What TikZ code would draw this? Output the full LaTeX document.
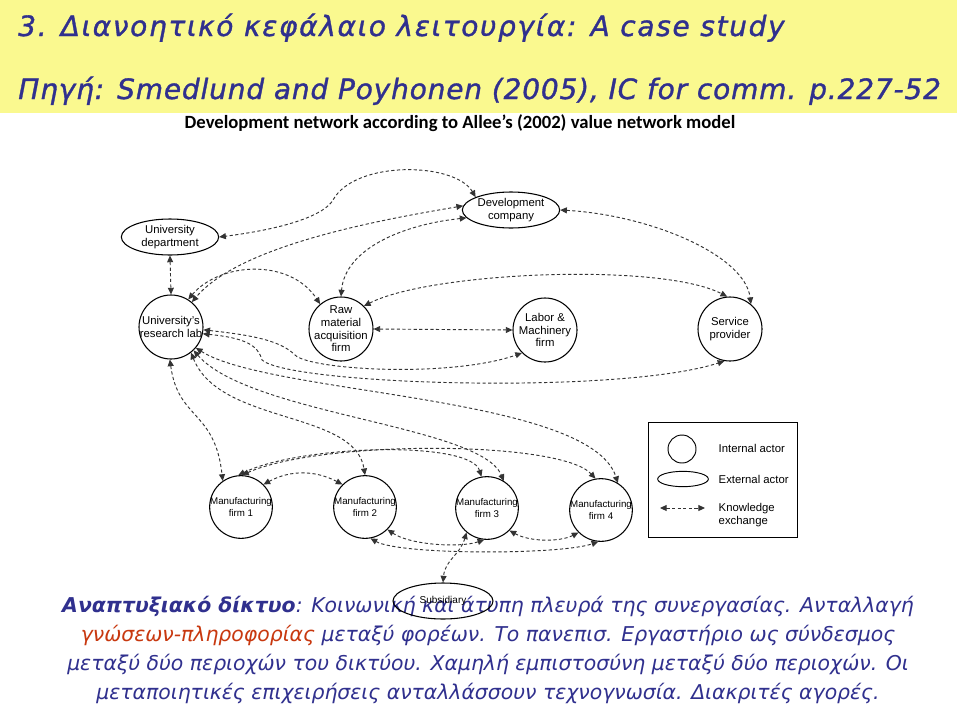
\documentclass[tikz,border=0pt]{standalone}
\usepackage{fontspec}
\setmainfont{Liberation Sans}
\newfontfamily\captionfont{Carlito}
\newfontfamily\slidefont{DejaVu Sans}
\newfontfamily\headfont[FakeBold=1.2,LetterSpace=3]{DejaVu Sans}
\newfontfamily\wideheadfont[FakeBold=1.2,LetterSpace=6]{DejaVu Sans}
\definecolor{SlideYellow}{HTML}{FAF98F}
\definecolor{SlideNavy}{HTML}{30308E}
\definecolor{SlideRust}{HTML}{C8380F}
\definecolor{LinkGrey}{HTML}{333333}
\usetikzlibrary{shapes,arrows.meta}

\begin{document}
\begin{tikzpicture}[x=0.75pt,y=-0.75pt,
    actor/.style={circle,draw,line width=0.8pt,minimum size=48pt,inner sep=-4pt,align=center,font=\fontsize{8.5}{9.5}\selectfont},
    firm/.style={actor,minimum size=47pt,inner sep=-3pt,font=\fontsize{7.3}{9}\selectfont},
    extactor/.style={ellipse,draw,line width=0.8pt,minimum width=73pt,minimum height=27pt,inner sep=0pt,align=center,font=\fontsize{8.5}{9.5}\selectfont},
    legtext/.style={anchor=west,align=left,font=\fontsize{8.5}{10}\selectfont},
    link/.style={LinkGrey,dash pattern=on 2.4pt off 1.8pt,line width=0.7pt,{Triangle[length=5pt,width=4.5pt]}-{Triangle[length=5pt,width=4.5pt]}}]
                \fill[white] (0,0) rectangle (960,711);
                \useasboundingbox (0,0) rectangle (960,711);
                \fill[SlideYellow] (0,0) rectangle (957,113);
                \node[anchor=base west,inner sep=0pt,SlideNavy,font=\wideheadfont\itshape\fontsize{21}{26}\selectfont] (title) at (18,36) {3. Διανοητικό κεφάλαιο λειτουργία: A case study};
                \node[anchor=base west,inner sep=0pt,SlideNavy,font=\headfont\itshape\fontsize{21}{26}\selectfont] (source) at (18,99) {Πηγή: Smedlund and Poyhonen (2005), IC for comm. p.227-52};
                \node[font=\captionfont\bfseries\fontsize{14}{16}\selectfont] (caption) at (460,123) {Development network according to Allee’s (2002) value network model};
                % actors
                \node[extactor] (udept) at (170,237) {University\\department};
                \node[extactor] (devco) at (511,210) {Development\\company};
                \node[actor] (lab) at (171,327) {University's\\research lab};
                \node[actor] (raw) at (341,329) {Raw\\material\\acquisition\\firm};
                \node[actor] (labor) at (545,330) {Labor \&\\Machinery\\firm};
                \node[actor] (serv) at (730,329) {Service\\provider};
                \node[firm] (mf1) at (241,507) {Manufacturing\\firm 1};
                \node[firm] (mf2) at (365,507) {Manufacturing\\firm 2};
                \node[firm] (mf3) at (487,508) {Manufacturing\\firm 3};
                \node[firm] (mf4) at (601,510) {Manufacturing\\firm 4};
                % knowledge exchange
                \draw[link] (udept.south) -- (lab.north);
                \draw[link] (devco.160) .. controls (455,162) and (355,160) .. (333,200) .. controls (325,214) and (290,228) .. (udept.east);
                \draw[link] (devco.175) .. controls (380,220) and (240,245) .. (lab.50);
                \draw[link] (devco.190) .. controls (400,225) and (345,250) .. (raw.north);
                \draw[link] (devco.east) .. controls (650,215) and (745,255) .. (serv.50);
                \draw[link] (lab.58) .. controls (220,262) and (290,258) .. (raw.130);
                \draw[link] (raw.east) -- (labor.west);
                \draw[link] (raw.45) .. controls (430,272) and (660,262) .. (serv.95);
                \draw[link] (lab.-5) .. controls (250,335) and (280,340) .. (295,355) .. controls (310,370) and (450,378) .. (labor.-135);
                \draw[link] (lab.-12) .. controls (245,338) and (258,345) .. (262,360) .. controls (290,385) and (620,395) .. (serv.-100);
                \draw[link] (lab.-92) .. controls (178,420) and (215,410) .. (mf1.125);
                \draw[link] (lab.-52) .. controls (220,425) and (355,410) .. (mf2.north);
                \draw[link] (lab.-46) .. controls (250,415) and (480,425) .. (mf3.58);
                \draw[link] (lab.-40) .. controls (270,395) and (590,395) .. (mf4.58);
                \draw[link] (mf1.95) .. controls (300,445) and (470,440) .. (mf3.100);
                \draw[link] (mf1.88) .. controls (320,440) and (560,440) .. (mf4.100);
                \draw[link] (mf1.45) .. controls (290,470) and (315,470) .. (mf2.135);
                \draw[link] (mf2.-45) .. controls (410,545) and (460,548) .. (mf3.-95);
                \draw[link] (mf2.-80) .. controls (400,555) and (560,555) .. (mf4.-95);
                \draw[link] (mf3.-45) .. controls (530,542) and (560,542) .. (mf4.-135);
                % legend
                \draw[line width=0.6pt] (648,422) rectangle (797,537);
                \node[circle,draw,line width=0.7pt,minimum size=21pt,inner sep=0pt] (legint) at (682,449) {};
                \node[ellipse,draw,line width=0.7pt,minimum width=38pt,minimum height=11.5pt,inner sep=0pt] (legext) at (683,479) {};
                \coordinate (legA) at (660,508);
                \coordinate (legB) at (705,508);
                \draw[link] (legA) -- (legB);
                \node[legtext] (legintlbl) at (714,448) {Internal actor};
                \node[legtext] (legextlbl) at (714,479) {External actor};
                \node[legtext] (legknowlbl) at (714,515) {Knowledge\\exchange};
                % remark below the figure
                \node[anchor=north,inner sep=0pt,align=center,SlideNavy,font=\slidefont\itshape\fontsize{15.3}{21.75}\selectfont] (remark) at (488,596) {\textbf{Αναπτυξιακό δίκτυο}: Κοινωνική και άτυπη πλευρά της συνεργασίας. Ανταλλαγή\\
                    \textcolor{SlideRust}{γνώσεων-πληροφορίας} μεταξύ φορέων. Το πανεπισ. Εργαστήριο ως σύνδεσμος\\
                    μεταξύ δύο περιοχών του δικτύου. Χαμηλή εμπιστοσύνη μεταξύ δύο περιοχών. Οι\\
                    μεταποιητικές επιχειρήσεις ανταλλάσσουν τεχνογνωσία. Διακριτές αγορές.};
                \node[extactor,minimum width=75pt,font=\fontsize{7.5}{9}\selectfont] (subs) at (443,601) {Subsidiary};
                \draw[link] (mf3.-130) .. controls (460,555) and (445,560) .. (subs.north);
            \end{tikzpicture}
\end{document}
